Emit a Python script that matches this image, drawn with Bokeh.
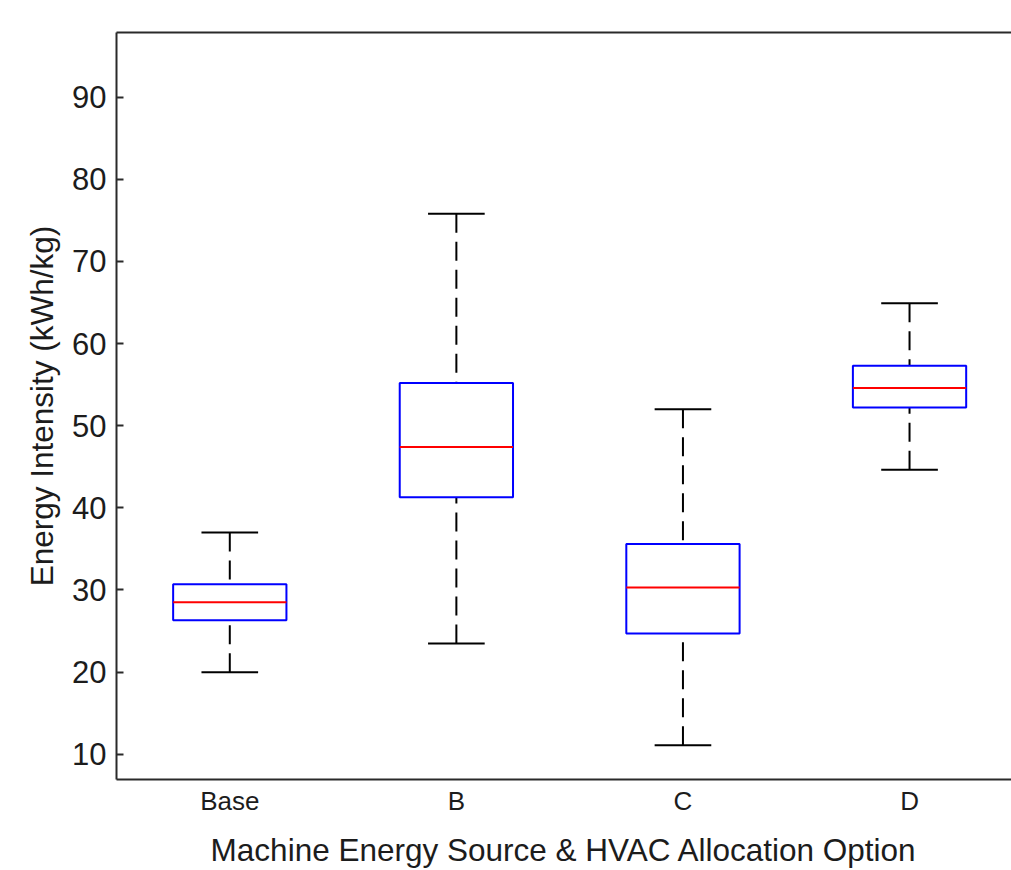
from bokeh.plotting import figure
from bokeh.models import LinearAxis, FixedTicker, Range1d, ColumnDataSource
from bokeh.embed import file_html
from bokeh.resources import INLINE

categories = ["Base", "B", "C", "D"]
whisker_low = [20.0, 23.5, 11.1, 44.65]
q1 = [26.3, 41.3, 24.7, 52.2]
median = [28.5, 47.4, 30.3, 54.6]
q3 = [30.7, 55.2, 35.6, 57.3]
whisker_high = [37.0, 75.8, 52.0, 64.9]
y_ticks = [10, 20, 30, 40, 50, 60, 70, 80, 90]

FONT = "Liberation Sans"
TXT = "#1c1c1c"
AX = "#2a2a2a"
BOX_W = 0.5
CAP_W = 0.25

xs = [i + 1 for i in range(len(categories))]
src = ColumnDataSource(dict(
    x=xs,
    left=[x - BOX_W / 2 for x in xs],
    right=[x + BOX_W / 2 for x in xs],
    cap_l=[x - CAP_W / 2 for x in xs],
    cap_r=[x + CAP_W / 2 for x in xs],
    lo=whisker_low, q1=q1, med=median, q3=q3, hi=whisker_high,
))

p = figure(width=1011, height=870, output_backend="svg", toolbar_location=None,
           x_range=Range1d(0.5, 4.45), y_range=Range1d(6.93, 97.86),
           min_border_left=116, min_border_right=0, min_border_top=32,
           min_border_bottom=91, x_axis_location="below")
p.outline_line_color = None
p.grid.visible = False
p.background_fill_color = "white"
p.border_fill_color = "white"

# whiskers (dashed)
p.segment(x0="x", y0="hi", x1="x", y1="q3", source=src, line_color="black",
          line_width=2, line_dash="19 9")
p.segment(x0="x", y0="lo", x1="x", y1="q1", source=src, line_color="black",
          line_width=2, line_dash="19 9")
# caps
p.segment(x0="cap_l", y0="hi", x1="cap_r", y1="hi", source=src, line_color="black", line_width=2)
p.segment(x0="cap_l", y0="lo", x1="cap_r", y1="lo", source=src, line_color="black", line_width=2)
# boxes
p.quad(left="left", right="right", bottom="q1", top="q3", source=src,
       fill_color=None, line_color="#0000ff", line_width=2)
# medians
p.segment(x0="left", y0="med", x1="right", y1="med", source=src,
          line_color="#ff0000", line_width=2)

# y axis
ya = p.yaxis[0]
ya.ticker = FixedTicker(ticks=y_ticks)
ya.axis_label = "Energy Intensity (kWh/kg)"
ya.axis_label_text_font = FONT
ya.axis_label_text_font_size = "31.5px"
ya.axis_label_text_font_style = "normal"
ya.axis_label_text_color = TXT
ya.axis_label_standoff = 9
ya.major_label_text_font = FONT
ya.major_label_text_font_size = "31px"
ya.major_label_text_color = TXT
ya.major_label_standoff = 10
ya.major_tick_in = 7
ya.major_tick_out = 0
ya.major_tick_line_width = 2
ya.major_tick_line_color = AX
ya.minor_tick_line_color = None
ya.axis_line_width = 2
ya.axis_line_color = AX

# x axis
xa = p.xaxis[0]
xa.ticker = FixedTicker(ticks=xs)
xa.major_label_overrides = {x: c for x, c in zip(xs, categories)}
xa.axis_label = "Machine Energy Source & HVAC Allocation Option"
xa.axis_label_text_font = FONT
xa.axis_label_text_font_size = "31.5px"
xa.axis_label_text_font_style = "normal"
xa.axis_label_text_color = TXT
xa.axis_label_standoff = 13
xa.major_label_text_font = FONT
xa.major_label_text_font_size = "26px"
xa.major_label_text_color = TXT
xa.major_label_standoff = 0
xa.major_tick_line_color = None
xa.minor_tick_line_color = None
xa.axis_line_width = 2
xa.axis_line_color = AX

# top border line only
top = LinearAxis(ticker=FixedTicker(ticks=[]), major_tick_line_color=None,
                 minor_tick_line_color=None, axis_line_width=2, axis_line_color=AX)
p.add_layout(top, "above")

open("out.html", "w").write(file_html(p, INLINE))
